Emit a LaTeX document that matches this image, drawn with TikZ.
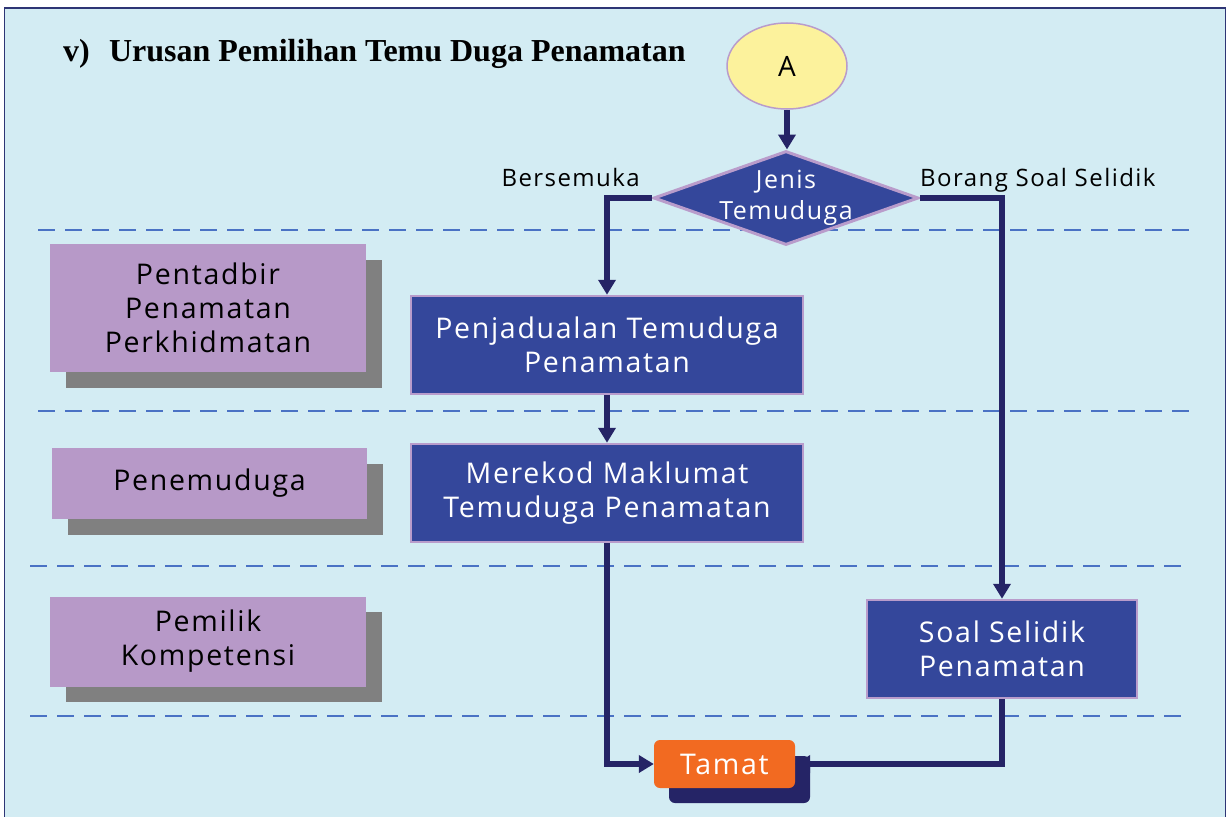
\documentclass[tikz,border=0pt]{standalone}
\usepackage{fontspec}
\setmainfont{Open Sans}[LetterSpace=6]
\newfontfamily\titlefont{Liberation Serif}
\usetikzlibrary{shapes.geometric,arrows.meta}
\definecolor{bgblue}{HTML}{D3ECF3}
\definecolor{frame}{HTML}{2E3575}
\definecolor{navy}{HTML}{252466}
\definecolor{procfill}{HTML}{34479B}
\definecolor{lilac}{HTML}{B99CCB}
\definecolor{rolefill}{HTML}{B799C8}
\definecolor{dashblue}{HTML}{4A72C4}
\definecolor{startfill}{HTML}{FCF29C}
\definecolor{tamatfill}{HTML}{F26A21}
\tikzset{
  x=1pt, y=-1pt,
  procbox/.style={draw=lilac, line width=2.5pt, fill=procfill, text=white,
    minimum width=392pt, minimum height=98pt, align=center, inner sep=0pt,
    font=\fontsize{28.5}{34}\selectfont},
  rolebox/.style={fill=rolefill, text=black, align=center, inner sep=0pt,
    font=\fontsize{28.5}{34}\selectfont},
  flow/.style={draw=navy, line width=6pt, -{Triangle[length=15pt,width=17pt]}},
  lane/.style={draw=dashblue, line width=1.8pt, dash pattern=on 17pt off 10pt},
  branch/.style={font=\fontsize{24}{28}\selectfont, text=black, inner sep=0pt},
}
\begin{document}
\begin{tikzpicture}
\useasboundingbox (0,0) rectangle (1228,816);
% page frame
\fill[white] (0,0) rectangle (1228,816);
\draw[frame, line width=1.5pt, fill=bgblue] (4.5,8) rectangle (1225.5,830);

% title
\node[anchor=base west, inner sep=0pt, font=\titlefont\bfseries\fontsize{32}{36}\selectfont] (title)
  at (63,61) {v)\hspace{0.6em}Urusan Pemilihan Temu Duga Penamatan};

% swimlane separators
\draw[lane] (38,230) -- (1196,230);
\draw[lane] (38,411) -- (1196,411);
\draw[lane] (30,566) -- (1186,566);
\draw[lane] (30,716) -- (1186,716);

% role boxes with drop shadows
\fill[gray] (66,260) rectangle (382,388);
\node[rolebox, minimum width=316pt, minimum height=128pt] (r1) at (208,308)
  {Pentadbir\\Penamatan\\Perkhidmatan};
\fill[gray] (68,464) rectangle (383,535);
\node[rolebox, minimum width=315pt, minimum height=71pt] (r2) at (209.5,483.5) {Penemuduga};
\fill[gray] (66,612) rectangle (382,702);
\node[rolebox, minimum width=316pt, minimum height=90pt] (r3) at (208,641.5)
  {Pemilik\\Kompetensi};

% start connector
\node[ellipse, draw=lilac, line width=1.5pt, fill=startfill, minimum width=120pt,
  minimum height=86pt, inner sep=0pt, font=\fontsize{28}{32}\selectfont] (A) at (787,66) {A};

% decision
\node[diamond, draw=lilac, line width=3pt, fill=procfill, text=white, aspect=2.8,
  minimum width=265pt, minimum height=94pt, inner sep=-8pt, align=center,
  font=\fontsize{25}{31}\selectfont] (D) at (786,198) {Jenis\\Temuduga};
\node[branch, anchor=base east] (lb) at (640,186) {Bersemuka};
\node[branch, anchor=base west] (rb) at (920,186) {Borang Soal Selidik};

% process steps
\node[procbox] (p1) at (607,345) {Penjadualan Temuduga\\Penamatan};
\node[procbox] (p2) at (607,493) {Merekod Maklumat\\Temuduga Penamatan};
\node[procbox, minimum width=270pt] (p3) at (1002,649) {Soal Selidik\\Penamatan};

% end terminal with shadow
\fill[navy, rounded corners=6pt] (669,756) rectangle (810,803);
\node[fill=tamatfill, rounded corners=6pt, minimum width=141pt, minimum height=48pt,
  text=white, inner sep=0pt, font=\fontsize{28.5}{32}\selectfont] (T) at (724.5,764) {Tamat};

% connectors
\draw[flow] (A.south) -- (A.south |- D.north);
\draw[flow] (D.west) -| (p1.north);
\draw[flow] (D.east) -| (p3.north);
\draw[flow] (p1.south) -- (p2.north);
\draw[flow] (p2.south) |- (T.west);
\draw[flow] (p3.south) |- (T.east);
\end{tikzpicture}
\end{document}
